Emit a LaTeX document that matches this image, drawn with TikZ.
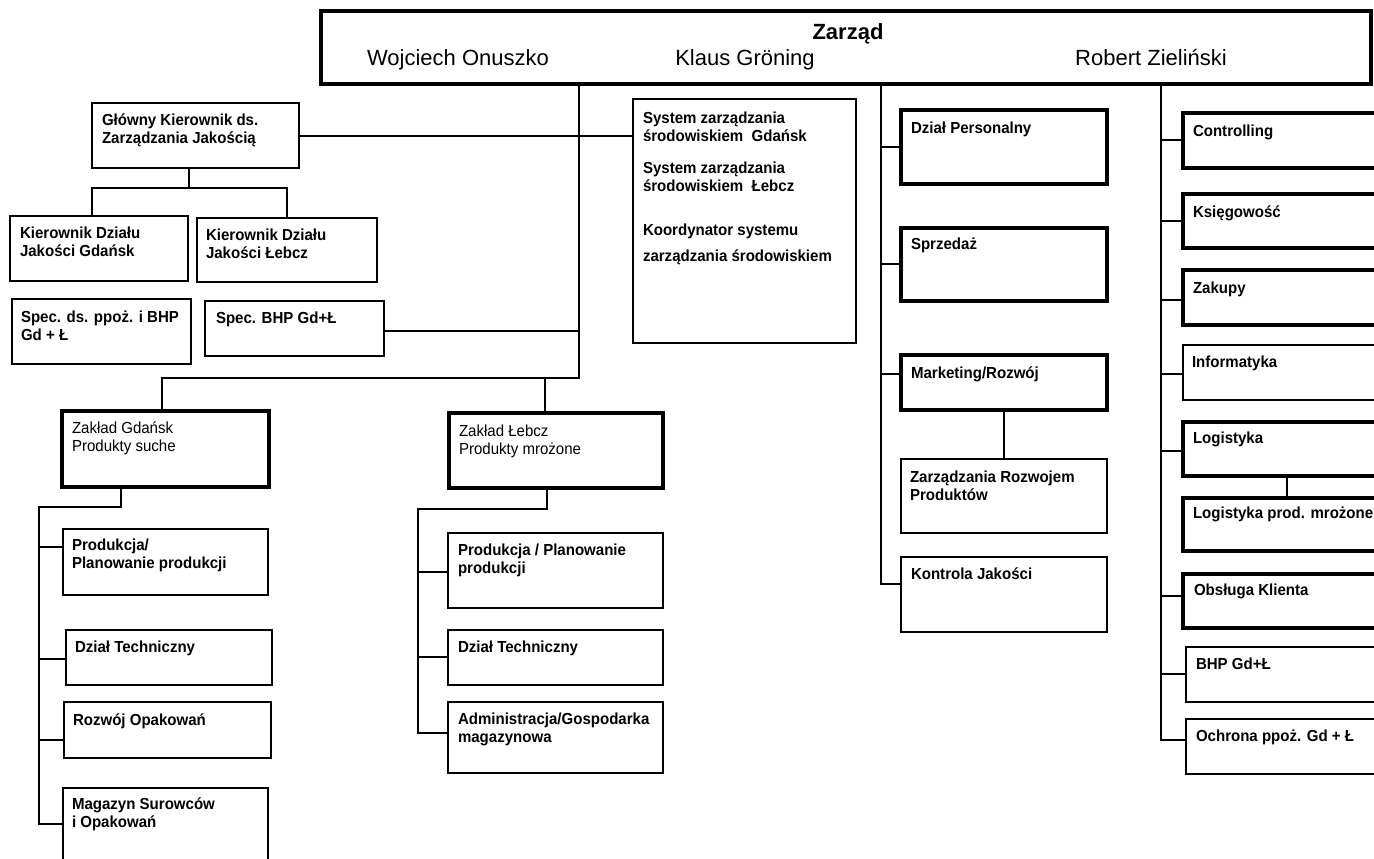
\documentclass[tikz,border=0pt]{standalone}
\usepackage{fontspec}
\setmainfont{Liberation Sans}
\newfontfamily\boxfont[FakeStretch=0.94]{Liberation Sans}
\newcommand\orgbox[6]{\node[#1, minimum width={(#5-#3)*1pt}, minimum height={(#6-#4)*1pt}] (#2) at (#3,#4) {};}
\begin{document}
\begin{tikzpicture}[x=1pt,y=-1pt,
  bx/.style={draw=black, anchor=north west, inner sep=0pt, outer sep=0pt, line width=1.3pt},
  thinbx/.style={bx},
  thickbx/.style={bx, line width=4pt},
  topbx/.style={bx, line width=3.5pt},
  lbl/.style={anchor=base west, inner sep=0pt, outer sep=0pt, align=left, font=\boxfont\fontsize{16}{18}\selectfont\bfseries},
  lblr/.style={lbl, font=\boxfont\fontsize{16}{18}\selectfont},
  conn/.style={draw=black, line width=1.2pt}]
\useasboundingbox (0,0) rectangle (1374,859);
\fill[white] (0,0) rectangle (1374,859);

% top box
\orgbox{topbx}{zarzad}{321}{11}{1371}{84}
\node[anchor=base, inner sep=0pt, font=\fontsize{22}{26}\selectfont\bfseries] (zt) at (848,40) {Zarząd};
\node[anchor=base, inner sep=0pt, font=\fontsize{22}{26}\selectfont] (n1) at (458,66) {Wojciech Onuszko};
\node[anchor=base, inner sep=0pt, font=\fontsize{22}{26}\selectfont] (n2) at (745,66) {Klaus Gröning};
\node[anchor=base, inner sep=0pt, font=\fontsize{22}{26}\selectfont] (n3) at (1151,66) {Robert Zieliński};

% left part (multi-line labels: base = last line)
\orgbox{thinbx}{glowny}{92}{103}{299}{168}
\node[lbl] (glowny-t) at (102,143) {Główny Kierownik ds.\\Zarządzania Jakością};
\orgbox{thinbx}{kg}{10}{216}{188}{281}
\node[lbl] (kg-t) at (20,256) {Kierownik Działu\\Jakości Gdańsk};
\orgbox{thinbx}{kl}{197}{218}{377}{282}
\node[lbl] (kl-t) at (206,258) {Kierownik Działu\\Jakości Łebcz};
\orgbox{thinbx}{sp}{12}{299}{191}{364}
\node[lbl] (sp-t) at (21,340) {Spec. ds. ppoż. i BHP\\Gd + Ł};
\orgbox{thinbx}{sbhp}{205}{301}{384}{356}
\node[lbl] (sbhp-t) at (216,323) {Spec. BHP Gd+Ł};
\orgbox{thinbx}{sys}{633}{99}{856}{343}
\node[lbl] (sys-t1) at (643,141) {System zarządzania\\środowiskiem\ \ Gdańsk};
\node[lbl] (sys-t2) at (643,191) {System zarządzania\\środowiskiem\ \ Łebcz};
\node[lbl] (sys-t3) at (643,235) {Koordynator systemu};
\node[lbl] (sys-t4) at (643,261) {zarządzania środowiskiem};

% plants
\orgbox{thickbx}{zgd}{62}{411}{269}{487}
\node[lblr] (zgd-t) at (72,451) {Zakład Gdańsk\\Produkty suche};
\orgbox{thickbx}{zlb}{449}{413}{663}{488}
\node[lblr] (zlb-t) at (459,454) {Zakład Łebcz\\Produkty mrożone};

\orgbox{thinbx}{pg}{63}{529}{268}{595}
\node[lbl] (pg-t) at (72,568) {Produkcja/\\Planowanie produkcji};
\orgbox{thinbx}{dtg}{66}{630}{272}{685}
\node[lbl] (dtg-t) at (75,652) {Dział Techniczny};
\orgbox{thinbx}{rog}{64}{702}{271}{758}
\node[lbl] (rog-t) at (73,725) {Rozwój Opakowań};
\orgbox{thinbx}{mag}{63}{788}{268}{870}
\node[lbl] (mag-t) at (72,827) {Magazyn Surowców\\i Opakowań};

\orgbox{thinbx}{pl}{448}{533}{663}{608}
\node[lbl] (pl-t) at (458,573) {Produkcja / Planowanie\\produkcji};
\orgbox{thinbx}{dtl}{448}{630}{663}{685}
\node[lbl] (dtl-t) at (458,652) {Dział Techniczny};
\orgbox{thinbx}{adm}{448}{702}{663}{773}
\node[lbl] (adm-t) at (458,742) {Administracja/Gospodarka\\magazynowa};

% middle column
\orgbox{thickbx}{dp}{901}{110}{1107}{184}
\node[lbl] (dp-t) at (911,133) {Dział Personalny};
\orgbox{thickbx}{spz}{901}{228}{1107}{301}
\node[lbl] (spz-t) at (911,249) {Sprzedaż};
\orgbox{thickbx}{mk}{901}{355}{1107}{410}
\node[lbl] (mk-t) at (911,378) {Marketing/Rozwój};
\orgbox{thinbx}{zrp}{901}{459}{1107}{533}
\node[lbl] (zrp-t) at (910,500) {Zarządzania Rozwojem\\Produktów};
\orgbox{thinbx}{kj}{901}{557}{1107}{632}
\node[lbl] (kj-t) at (911,579) {Kontrola Jakości};

% right column
\orgbox{thickbx}{ctr}{1183}{113}{1400}{168}
\node[lbl] (ctr-t) at (1193,136) {Controlling};
\orgbox{thickbx}{ksi}{1183}{194}{1400}{248}
\node[lbl] (ksi-t) at (1193,217) {Księgowość};
\orgbox{thickbx}{zak}{1183}{270}{1400}{325}
\node[lbl] (zak-t) at (1193,293) {Zakupy};
\orgbox{thinbx}{inf}{1183}{345}{1400}{400}
\node[lbl] (inf-t) at (1192,367) {Informatyka};
\orgbox{thickbx}{log}{1183}{422}{1400}{476}
\node[lbl] (log-t) at (1193,443) {Logistyka};
\orgbox{thickbx}{logp}{1183}{498}{1400}{551}
\node[lbl] (logp-t) at (1193,518) {Logistyka prod. mrożone};
\orgbox{thickbx}{obs}{1183}{574}{1400}{628}
\node[lbl] (obs-t) at (1194,595) {Obsługa Klienta};
\orgbox{thinbx}{bhp}{1186}{647}{1400}{702}
\node[lbl] (bhp-t) at (1196,669) {BHP Gd+Ł};
\orgbox{thinbx}{och}{1186}{719}{1400}{774}
\node[lbl] (och-t) at (1196,741) {Ochrona ppoż. Gd + Ł};

% connectors: left trunk
\coordinate (tL) at (579,378);
\coordinate (a1) at (162,378);
\coordinate (a2) at (545,378);
\draw[conn] (zarzad.south -| tL) -- (tL) -- (a1) -- (a1 |- zgd.north);
\draw[conn] (a2) -- (a2 |- zlb.north);
\draw[conn] (glowny.east |- 0,136) -- (sys.west |- 0,136);
\draw[conn] (sbhp.east |- 0,331) -- (tL |- 0,331);
\coordinate (g1) at (189,188);
\coordinate (g2) at (92,188);
\coordinate (g3) at (287,188);
\draw[conn] (glowny.south -| g1) -- (g1);
\draw[conn] (g2 |- kg.north) -- (g2) -- (g3) -- (g3 |- kl.north);

% Gdansk plant
\coordinate (b1) at (121,507);
\coordinate (b2) at (39,507);
\draw[conn] (zgd.south -| b1) -- (b1) -- (b2) -- (b2 |- 0,824) -- (mag.west |- 0,824);
\draw[conn] (b2 |- 0,547) -- (pg.west |- 0,547);
\draw[conn] (b2 |- 0,659) -- (dtg.west |- 0,659);
\draw[conn] (b2 |- 0,740) -- (rog.west |- 0,740);

% Lebcz plant
\coordinate (c1) at (547,509);
\coordinate (c2) at (418,509);
\draw[conn] (zlb.south -| c1) -- (c1) -- (c2) -- (c2 |- 0,733) -- (adm.west |- 0,733);
\draw[conn] (c2 |- 0,572) -- (pl.west |- 0,572);
\draw[conn] (c2 |- 0,657) -- (dtl.west |- 0,657);

% middle trunk
\coordinate (m) at (881,584);
\draw[conn] (zarzad.south -| m) -- (m) -- (kj.west |- m);
\draw[conn] (m |- 0,147) -- (dp.west |- 0,147);
\draw[conn] (m |- 0,264) -- (spz.west |- 0,264);
\draw[conn] (m |- 0,374) -- (mk.west |- 0,374);
\draw[conn] (mk.south) -- (zrp.north);

% right trunk
\coordinate (r) at (1161,740);
\draw[conn] (zarzad.south -| r) -- (r) -- (och.west |- r);
\draw[conn] (r |- 0,140) -- (ctr.west |- 0,140);
\draw[conn] (r |- 0,221) -- (ksi.west |- 0,221);
\draw[conn] (r |- 0,300) -- (zak.west |- 0,300);
\draw[conn] (r |- 0,374) -- (inf.west |- 0,374);
\draw[conn] (r |- 0,451) -- (log.west |- 0,451);
\draw[conn] (r |- 0,596) -- (obs.west |- 0,596);
\draw[conn] (r |- 0,674) -- (bhp.west |- 0,674);
\draw[conn] (log.south -| 1287,0) -- (logp.north -| 1287,0);
\end{tikzpicture}
\end{document}
